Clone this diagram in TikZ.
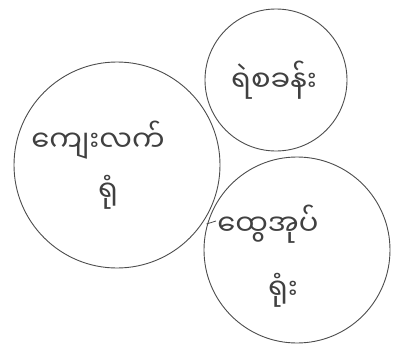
\documentclass[tikz,border=0pt]{standalone}
\usepackage{fontspec}
\newfontfamily\mmfont[Script=Myanmar]{Noto Sans Myanmar UI}
\begin{document}
\begin{tikzpicture}[x=1pt,y=-1pt,
  ring/.style={circle,draw=black!70,line width=0.9pt,inner sep=0pt},
  hand/.style={text=black!75,font=\mmfont\fontsize{29}{34}\selectfont,inner sep=0pt}]
\useasboundingbox (0,0) rectangle (404,356);
\node[ring,minimum size=206pt] (L) at (117,165) {};
\node[ring,minimum size=142pt] (T) at (276,80) {};
\node[ring,minimum size=186pt] (R) at (297,250) {};
\node[hand] (t1) at (274,80) {ရဲစခန်း};
\node[hand] (l1) at (98,140) {ကျေးလက်};
\node[hand] (l2) at (108,192) {ရုံ};
\node[hand] (r1) at (268,224) {ထွေအုပ်};
\node[hand] (r2) at (283,290) {ရုံး};
\coordinate (k) at (216,221);
\draw[black!70,line width=0.8pt] (R.west |- k) ++(3,3) -- (k);
\end{tikzpicture}
\end{document}
